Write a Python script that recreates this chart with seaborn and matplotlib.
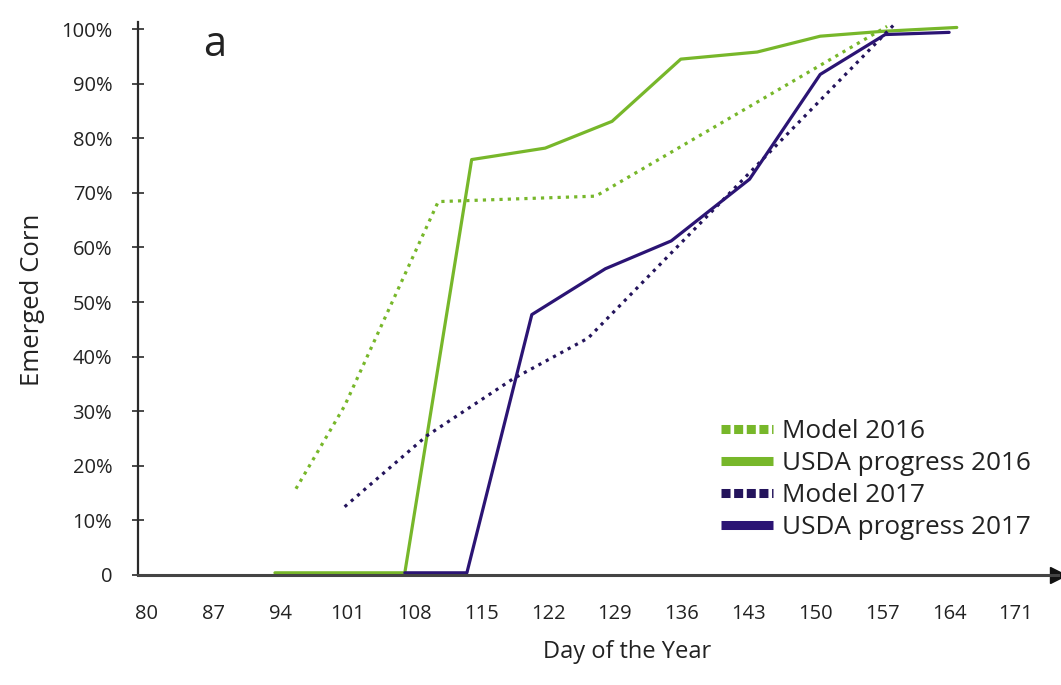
import matplotlib
matplotlib.use("Agg")
import matplotlib.pyplot as plt
import seaborn as sns
import pandas as pd

# ---- data (day of year, % emerged) ----
model16_day = [95.6, 100.7, 110.5, 127.0, 157.5]
model16_pct = [15.8, 31.0, 68.4, 69.4, 100.5]

usda16_day = [93.4, 107.0, 114.0, 121.7, 128.7, 135.9, 143.9, 150.5, 157.1, 164.8]
usda16_pct = [0.4, 0.4, 76.1, 78.2, 83.1, 94.5, 95.8, 98.7, 99.6, 100.3]

model17_day = [100.7, 109.3, 118.3, 126.2, 143.0, 158.5]
model17_pct = [12.5, 25.5, 35.9, 43.4, 73.5, 101.3]

usda17_day = [107.0, 113.5, 120.3, 128.0, 134.9, 143.1, 150.5, 157.3, 164.0]
usda17_pct = [0.4, 0.4, 47.7, 56.1, 61.2, 72.5, 91.7, 99.0, 99.4]

x_ticks = [80, 87, 94, 101, 108, 115, 122, 129, 136, 143, 150, 157, 164, 171]
y_ticks = [0, 10, 20, 30, 40, 50, 60, 70, 80, 90, 100]
y_ticklabels = ["0", "10%", "20%", "30%", "40%", "50%", "60%", "70%", "80%", "90%", "100%"]

labels = ["Model 2016", "USDA progress 2016", "Model 2017", "USDA progress 2017"]

GREEN = "#77b72a"
PURPLE = "#2b1474"
PURPLE_DOT = "#24145c"
AXC = "#2a2a2a"

sns.set_theme(style="white")
plt.rcParams["font.family"] = ["Open Sans", "DejaVu Sans"]

fig = plt.figure(figsize=(10.61, 6.85), dpi=100)
fig.patch.set_facecolor("white")
ax = fig.add_axes([138 / 1061, 1 - 575 / 685, 920 / 1061, 553 / 685])

dot = (0, (1, 1.6))
series = [
    (model16_day, model16_pct, GREEN, dot, labels[0]),
    (usda16_day, usda16_pct, GREEN, "-", labels[1]),
    (model17_day, model17_pct, PURPLE_DOT, dot, labels[2]),
    (usda17_day, usda17_pct, PURPLE, "-", labels[3]),
]
for d, p, c, ls, lab in series:
    df = pd.DataFrame({"day": d, "pct": p})
    sns.lineplot(data=df, x="day", y="pct", ax=ax, color=c, linestyle=ls,
                 linewidth=2.3, estimator=None, sort=False, label=lab, clip_on=False)

ax.set_xlim(79.06, 175.4)
ax.set_ylim(0, 101.3)

ax.set_xticks(x_ticks)
ax.set_xticklabels([str(t) for t in x_ticks])
ax.set_yticks(y_ticks)
ax.set_yticklabels(y_ticklabels)

ax.tick_params(axis="x", length=0, pad=21, labelsize=14.5, labelcolor="#222222")
ax.tick_params(axis="y", direction="inout", length=9, width=1.2, color=AXC,
               pad=14, labelsize=14.5, labelcolor="#222222", left=True)

for s in ["top", "right"]:
    ax.spines[s].set_visible(False)
ax.spines["left"].set_color(AXC)
ax.spines["left"].set_linewidth(1.6)
ax.spines["bottom"].set_color("#444444")
ax.spines["bottom"].set_linewidth(2.2)
ax.plot(1, 0, marker=">", color="#111111", markersize=11, transform=ax.transAxes,
        clip_on=False)

ax.set_xlabel("Day of the Year", fontsize=17, color="#222222")
ax.set_ylabel("Emerged Corn", fontsize=18.5, color="#222222")
ax.xaxis.set_label_coords((627 - 138) / 920, (575 - 652) / 553)
ax.yaxis.set_label_coords((33 - 138) / 920, (575 - 300) / 553)
ax.xaxis.label.set_va("center")
ax.yaxis.label.set_va("center")

fig.text(215 / 1061, 1 - 45 / 685, "a", fontsize=30, color="#222222",
         ha="center", va="center")

leg = ax.legend(loc="lower right", bbox_to_anchor=((1031 - 138) / 920, (575 - 540) / 553),
                frameon=False, fontsize=18.8, handlelength=2.0, handletextpad=0.35,
                labelspacing=0.27, borderaxespad=0.0, borderpad=0.0)
for line in leg.get_lines():
    line.set_linewidth(6.5)
    line.set_solid_capstyle("butt")
    line.set_dash_capstyle("butt")
for line, ls in zip(leg.get_lines(), [(0, (1, 0.4)), "-", (0, (1, 0.4)), "-"]):
    line.set_linestyle(ls)
for t in leg.get_texts():
    t.set_color("#222222")

fig.savefig("out.png", dpi=100, facecolor="white")
